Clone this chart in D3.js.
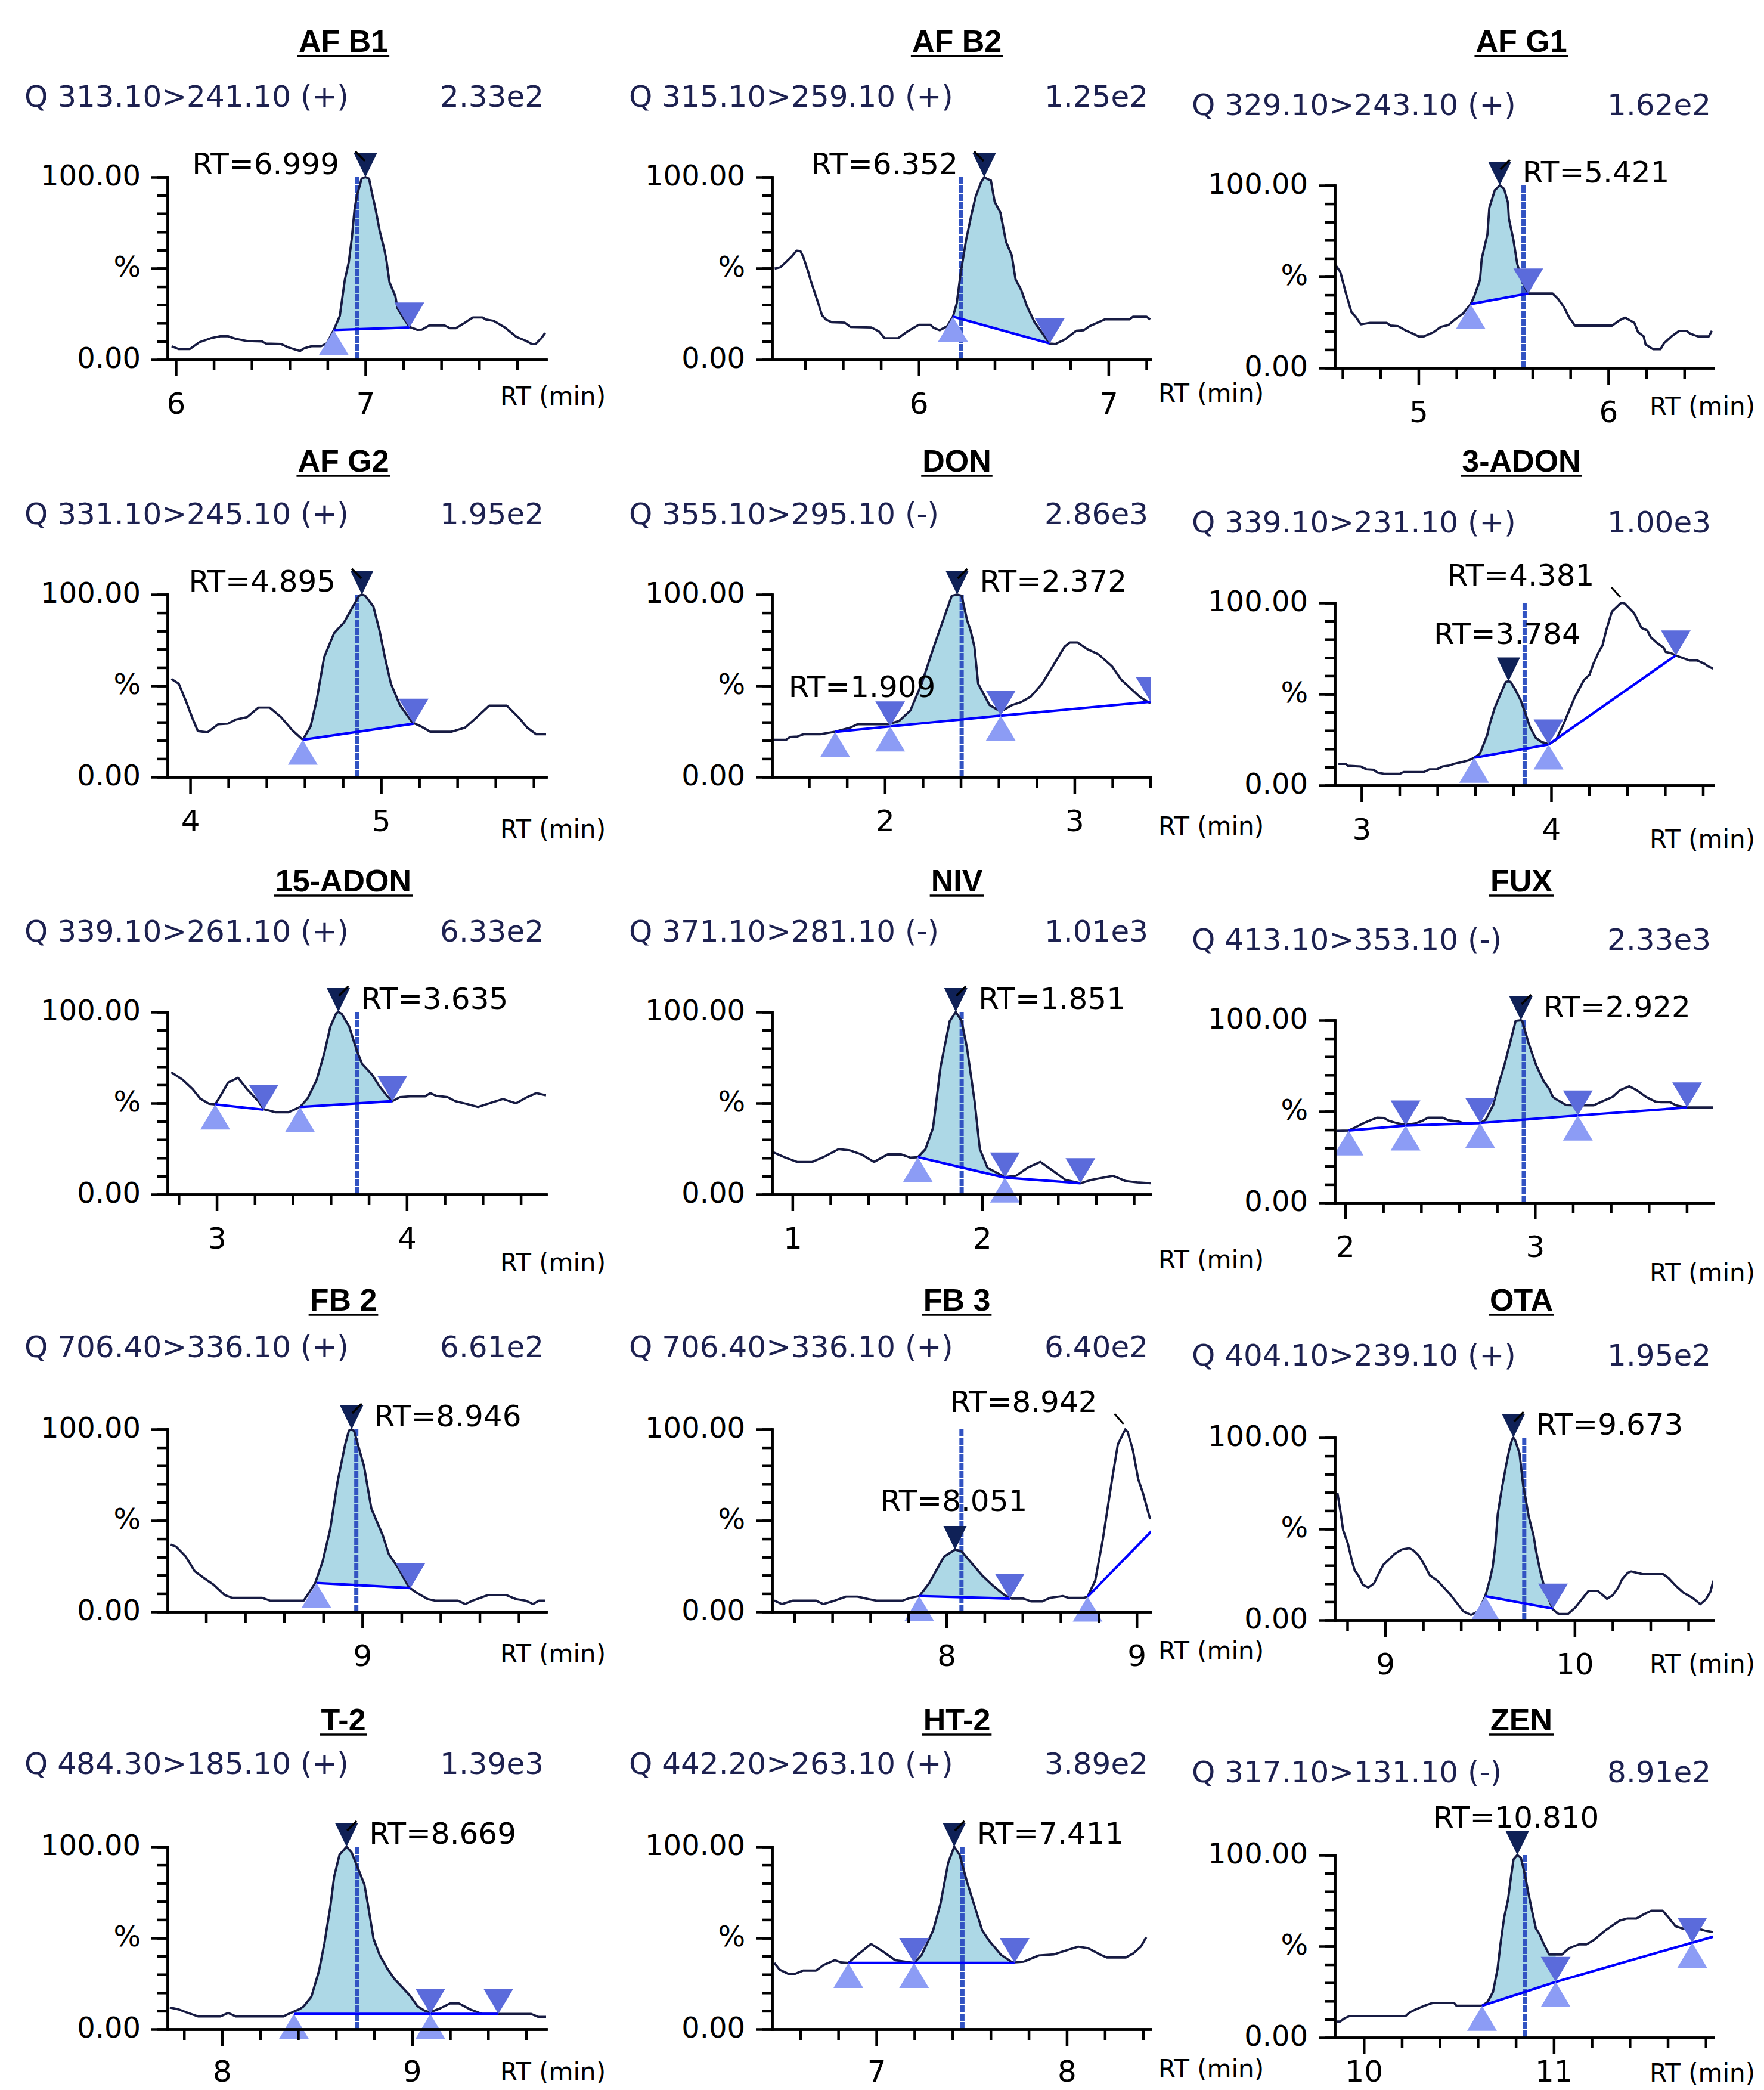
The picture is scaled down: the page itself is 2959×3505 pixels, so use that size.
<!DOCTYPE html>
<html><head><meta charset="utf-8">
<script src="https://cdn.jsdelivr.net/npm/d3@7"></script>
<style>body{margin:0;background:#fff}svg{display:block}</style>
</head><body>
<svg id="chart" width="2959" height="3505"></svg>
<script>
// ---------------- DATA ----------------
const compounds = ["AF B1","AF B2","AF G1","AF G2","DON","3-ADON","15-ADON","NIV","FUX","FB 2","FB 3","OTA","T-2","HT-2","ZEN"];
const transitions = ["Q 313.10>241.10 (+)","Q 315.10>259.10 (+)","Q 329.10>243.10 (+)","Q 331.10>245.10 (+)","Q 355.10>295.10 (-)","Q 339.10>231.10 (+)","Q 339.10>261.10 (+)","Q 371.10>281.10 (-)","Q 413.10>353.10 (-)","Q 706.40>336.10 (+)","Q 706.40>336.10 (+)","Q 404.10>239.10 (+)","Q 484.30>185.10 (+)","Q 442.20>263.10 (+)","Q 317.10>131.10 (-)"];
const intensities = ["2.33e2","1.25e2","1.62e2","1.95e2","2.86e3","1.00e3","6.33e2","1.01e3","2.33e3","6.61e2","6.40e2","1.95e2","1.39e3","3.89e2","8.91e2"];
const timeRanges = [[5.956,7.953],[5.226,7.222],[4.559,6.553],[3.881,5.865],[1.405,3.401],[2.859,4.855],[2.741,4.733],[0.892,2.888],[1.945,3.940],[8.003,9.940],[7.083,9.073],[8.734,10.732],[7.713,9.705],[6.452,8.440],[9.847,11.840]];
const yTickValues = [0,10,20,30,40,50,60,70,80,90,100];
const yTickLabels = {0:"0.00",50:"%",100:"100.00"};
const expectedRT = [6.956,6.224,5.553,4.873,2.405,3.860,3.737,1.892,2.941,8.969,8.079,9.734,8.709,7.452,10.847];
const peakTimes = [7.0,6.345,5.428,4.90,2.381,3.775,3.64,1.861,2.926,8.945,8.045,9.677,8.655,7.409,10.808];
const peakHeights = [100,100,100,100,100,57,100,100,100,100,34,100,100,100,100];
const peakLabels = ["RT=6.999","RT=6.352","RT=5.421","RT=4.895","RT=2.372","RT=3.784","RT=3.635","RT=1.851","RT=2.922","RT=8.946","RT=8.051","RT=9.673","RT=8.669","RT=7.411","RT=10.810"];
// other detected peaks: [panel, time, %, label]
const secondaryPeaks = [[5,4.375,100,"RT=4.381"],[10,8.94,100,"RT=8.942"]];
const freeLabels = [[4,1.492,43.8,"RT=1.909"]];

const traceAFB1 = [[5.978,7.3],[6.014,5.8],[6.074,5.8],[6.124,9.5],[6.184,11.7],[6.234,12.8],[6.275,12.8],[6.315,11.4],[6.375,10.2],[6.455,9.9],[6.475,8.8],[6.555,8.5],[6.595,6.6],[6.655,4.7],[6.675,6.1],[6.715,7.3],[6.766,7.3],[6.796,8.8],[6.833,16.2],[6.865,23.9],[6.875,31.5],[6.891,43.5],[6.912,53.3],[6.928,66.3],[6.943,82.7],[6.954,89.2],[6.980,99.2],[7.0,100],[7.019,99.2],[7.032,92.5],[7.053,82.7],[7.075,70.7],[7.101,59.8],[7.111,54.3],[7.127,42.4],[7.158,34.7],[7.169,28.2],[7.200,22.8],[7.232,17.9],[7.274,16.3],[7.297,16.4],[7.337,18.7],[7.417,18.7],[7.447,17.2],[7.477,17.2],[7.517,19.7],[7.567,23.1],[7.617,23.1],[7.637,21.9],[7.677,21.2],[7.737,17.5],[7.797,12.4],[7.848,10.2],[7.878,8.5],[7.898,8.5],[7.928,11.7],[7.948,14.6]];
const traceAFB2 = [[5.24,49.9],[5.27,50.6],[5.30,53.5],[5.33,56.5],[5.356,59.7],[5.376,59.4],[5.39,56.5],[5.416,48.4],[5.43,43.3],[5.47,30.8],[5.49,24.2],[5.51,22.0],[5.54,20.5],[5.61,20.2],[5.64,17.9],[5.75,17.6],[5.79,15.4],[5.82,11.7],[5.89,11.7],[5.94,15.4],[6.00,19.1],[6.06,19.1],[6.08,17.3],[6.11,16.1],[6.15,18.3],[6.18,23.5],[6.20,30.8],[6.22,46.9],[6.25,66.0],[6.28,80.6],[6.30,89.4],[6.33,97.5],[6.345,100],[6.36,99.0],[6.38,98.2],[6.40,86.5],[6.43,80.6],[6.46,64.5],[6.49,57.2],[6.51,44.0],[6.54,38.1],[6.57,29.3],[6.61,20.5],[6.65,14.7],[6.69,8.8],[6.72,8.5],[6.77,11.0],[6.83,15.8],[6.87,16.1],[6.90,18.3],[6.98,22.0],[7.11,22.0],[7.13,23.5],[7.20,23.5],[7.22,22.0]];
const traceAFG1 = [[4.559,57.0],[4.588,52.6],[4.618,40.8],[4.647,30.5],[4.667,28.3],[4.696,23.9],[4.745,24.7],[4.833,24.7],[4.853,23.2],[4.892,22.9],[4.931,20.6],[4.971,18.8],[5.0,17.3],[5.029,17.3],[5.078,19.5],[5.118,22.5],[5.157,23.5],[5.196,26.9],[5.235,29.8],[5.275,35.0],[5.294,39.4],[5.324,48.2],[5.333,59.9],[5.363,73.1],[5.373,87.8],[5.402,97.4],[5.428,100],[5.451,98.1],[5.471,90.7],[5.476,81.9],[5.5,70.2],[5.52,57.0],[5.549,46.7],[5.578,40.8],[5.706,40.8],[5.735,37.9],[5.765,33.5],[5.794,27.6],[5.824,23.2],[6.02,23.2],[6.059,26.1],[6.088,27.6],[6.137,24.7],[6.157,19.5],[6.186,17.3],[6.196,12.9],[6.235,10.3],[6.275,10.3],[6.294,13.6],[6.333,17.3],[6.373,20.3],[6.412,20.3],[6.431,18.8],[6.471,17.3],[6.529,17.3],[6.545,20.3]];
const traceAFG2 = [[3.901,53.7],[3.940,51.1],[3.980,40.9],[4.012,32.1],[4.040,25.1],[4.091,24.5],[4.147,28.9],[4.198,29.2],[4.238,31.4],[4.298,32.8],[4.357,38.0],[4.417,38.0],[4.476,32.8],[4.536,25.5],[4.590,20.4],[4.631,27.7],[4.663,42.3],[4.702,65.7],[4.754,78.8],[4.806,84.7],[4.845,92.0],[4.885,99.3],[4.90,100],[4.917,99.3],[4.960,93.4],[4.992,80.3],[5.020,65.7],[5.052,51.1],[5.099,39.4],[5.163,29.9],[5.210,27.7],[5.258,24.8],[5.369,24.8],[5.440,27.0],[5.488,31.4],[5.567,39.1],[5.659,39.1],[5.726,32.1],[5.766,27.0],[5.813,23.4],[5.865,23.4]];
const traceDON = [[1.409,20.4],[1.480,20.4],[1.500,21.9],[1.540,22.2],[1.571,23.4],[1.659,23.4],[1.738,24.8],[1.817,27.0],[1.857,28.9],[2.016,28.9],[2.075,30.7],[2.135,36.5],[2.194,51.1],[2.254,70.1],[2.313,87.6],[2.353,99.3],[2.381,100],[2.405,99.3],[2.433,86.1],[2.452,80.3],[2.472,71.5],[2.492,51.1],[2.552,39.4],[2.611,35.8],[2.671,39.4],[2.722,41.2],[2.770,44.1],[2.829,51.1],[2.889,61.3],[2.948,71.5],[2.976,73.7],[3.016,73.7],[3.067,70.1],[3.127,67.2],[3.198,60.6],[3.246,53.3],[3.345,43.8],[3.385,41.2],[3.401,40.5]];
const trace3ADON = [[2.878,11.7],[2.918,11.7],[2.927,10.7],[2.996,10.3],[3.025,8.8],[3.065,8.5],[3.084,7.0],[3.120,6.3],[3.202,6.3],[3.222,7.3],[3.329,7.3],[3.359,8.8],[3.398,8.8],[3.427,10.3],[3.457,10.7],[3.486,11.7],[3.535,12.9],[3.565,13.7],[3.594,15.1],[3.624,17.3],[3.663,27.6],[3.676,33.5],[3.702,42.3],[3.731,49.6],[3.761,56.7],[3.775,57],[3.786,56.7],[3.810,52.6],[3.839,46.7],[3.869,37.9],[3.888,32.0],[3.918,26.1],[3.947,23.9],[3.986,22.5],[4.025,24.7],[4.065,33.5],[4.124,48.2],[4.173,57.7],[4.202,60.6],[4.222,66.5],[4.251,73.1],[4.271,76.8],[4.290,84.9],[4.320,95.2],[4.369,100],[4.388,99.6],[4.437,94.4],[4.476,86.3],[4.506,84.9],[4.525,81.2],[4.555,78.3],[4.594,75.3],[4.604,73.1],[4.633,72.4],[4.663,70.9],[4.702,69.5],[4.731,68.4],[4.771,68.4],[4.810,66.5],[4.829,65.1],[4.853,64.0]];
const trace15ADON = [[2.761,66.9],[2.821,62.8],[2.873,57.7],[2.912,52.6],[2.960,49.6],[2.992,49.3],[3.032,56.2],[3.060,61.3],[3.112,63.9],[3.159,57.7],[3.219,51.1],[3.247,46.7],[3.311,45.0],[3.378,45.0],[3.438,47.9],[3.478,52.6],[3.526,62.8],[3.566,77.4],[3.598,92.0],[3.629,99.3],[3.64,100],[3.657,99.0],[3.697,92.0],[3.737,78.8],[3.765,71.5],[3.817,65.7],[3.857,59.1],[3.896,54.0],[3.924,51.1],[3.964,53.3],[4.016,53.7],[4.096,53.7],[4.124,55.5],[4.155,54.0],[4.215,53.3],[4.255,51.1],[4.315,49.6],[4.375,47.9],[4.434,49.9],[4.506,52.3],[4.574,49.9],[4.633,53.3],[4.681,55.5],[4.733,54.3]];
const traceNIV = [[0.892,23.4],[0.924,21.9],[0.964,20.1],[1.024,17.8],[1.104,17.8],[1.163,20.4],[1.243,24.8],[1.303,24.1],[1.363,21.9],[1.430,17.8],[1.502,21.9],[1.574,21.9],[1.622,20.1],[1.661,20.4],[1.701,24.8],[1.741,36.5],[1.781,70.1],[1.829,94.9],[1.861,100],[1.892,94.9],[1.920,80.3],[1.960,51.1],[1.988,24.8],[2.028,14.6],[2.120,9.5],[2.179,10.2],[2.239,14.6],[2.307,17.8],[2.371,13.1],[2.438,8.0],[2.518,6.1],[2.578,8.0],[2.689,10.2],[2.757,7.3],[2.817,6.6],[2.888,6.1]];
const traceFUX = [[1.955,39.4],[2.018,39.6],[2.053,41.3],[2.092,43.4],[2.132,45.2],[2.167,46.6],[2.206,46.4],[2.230,44.9],[2.269,43.7],[2.318,42.7],[2.367,43.4],[2.407,44.9],[2.436,46.6],[2.515,46.6],[2.544,45.2],[2.593,44.6],[2.623,43.7],[2.711,43.7],[2.740,45.5],[2.760,49.5],[2.780,53.6],[2.809,65.3],[2.839,75.5],[2.868,87.2],[2.898,99.6],[2.926,100],[2.933,99.6],[2.967,87.2],[3.006,75.5],[3.045,66.8],[3.075,62.4],[3.094,58.0],[3.114,56.6],[3.163,53.6],[3.212,53.4],[3.310,53.4],[3.360,55.8],[3.409,58.0],[3.448,61.7],[3.497,63.8],[3.536,61.7],[3.585,58.0],[3.635,55.4],[3.664,55.1],[3.713,55.1],[3.743,53.4],[3.802,52.2],[3.939,52.2]];
const traceFB2 = [[8.019,36.8],[8.046,35.8],[8.096,30.3],[8.142,22.2],[8.188,18.6],[8.238,14.9],[8.296,9.1],[8.335,7.6],[8.488,7.6],[8.527,6.1],[8.70,6.1],[8.758,15.6],[8.796,27.3],[8.835,45.0],[8.873,71.2],[8.912,91.7],[8.931,99.3],[8.945,100],[8.958,99.0],[8.981,90.2],[9.008,80.0],[9.046,56.6],[9.104,42.0],[9.135,31.7],[9.181,24.4],[9.238,13.5],[9.277,10.5],[9.335,6.9],[9.373,6.1],[9.488,6.1],[9.527,4.2],[9.565,6.1],[9.642,9.1],[9.738,9.1],[9.788,6.9],[9.835,6.1],[9.873,4.2],[9.904,6.1],[9.935,6.1]];
const traceFB3 = [[7.095,6.1],[7.135,4.2],[7.194,6.1],[7.313,6.1],[7.353,4.2],[7.413,6.1],[7.472,8.3],[7.532,8.3],[7.591,6.9],[7.631,6.1],[7.770,6.1],[7.810,7.6],[7.857,8.6],[7.909,15.6],[7.948,23.0],[7.988,30.3],[8.045,34.0],[8.079,33.2],[8.127,27.3],[8.187,20.0],[8.246,14.2],[8.306,9.1],[8.345,7.2],[8.405,7.2],[8.444,5.7],[8.504,5.7],[8.544,7.6],[8.611,8.6],[8.643,7.6],[8.722,7.6],[8.742,8.3],[8.782,17.1],[8.821,39.0],[8.849,58.0],[8.873,74.1],[8.901,91.7],[8.94,100],[8.952,98.7],[8.980,88.7],[9.008,72.7],[9.032,65.4],[9.071,50.7]];
const traceOTA = [[8.748,69.7],[8.764,59.5],[8.778,49.3],[8.803,42.0],[8.823,33.2],[8.839,27.4],[8.862,23.8],[8.882,19.4],[8.911,17.9],[8.941,20.1],[8.961,24.5],[8.990,30.3],[9.020,33.2],[9.049,36.2],[9.089,38.8],[9.128,39.4],[9.148,38.3],[9.177,35.4],[9.207,30.3],[9.236,24.5],[9.276,21.6],[9.305,18.4],[9.344,14.0],[9.374,9.9],[9.413,4.8],[9.453,2.9],[9.492,4.8],[9.528,13.1],[9.551,21.6],[9.567,28.9],[9.581,40.5],[9.594,58.0],[9.614,71.1],[9.640,85.7],[9.654,93.0],[9.669,98.8],[9.677,100],[9.685,98.8],[9.709,91.5],[9.728,74.1],[9.758,56.6],[9.783,46.4],[9.797,37.6],[9.817,27.4],[9.846,15.7],[9.886,5.8],[9.915,3.4],[9.965,3.4],[10.004,7.0],[10.043,12.1],[10.073,16.0],[10.122,16.0],[10.142,14.3],[10.171,11.7],[10.201,13.6],[10.230,17.9],[10.250,22.3],[10.280,25.9],[10.299,26.7],[10.358,25.2],[10.467,25.2],[10.496,23.0],[10.535,18.7],[10.575,15.0],[10.624,12.1],[10.663,8.7],[10.693,11.4],[10.717,15.7],[10.732,21.6]];
const traceT2 = [[7.725,11.9],[7.773,10.8],[7.821,8.9],[7.873,7.0],[7.992,7.0],[8.032,8.9],[8.072,7.0],[8.323,7.0],[8.351,8.4],[8.410,11.1],[8.430,12.6],[8.470,17.8],[8.510,31.9],[8.538,46.7],[8.570,67.4],[8.590,83.7],[8.618,95.6],[8.655,100],[8.681,97.0],[8.721,86.7],[8.749,79.3],[8.769,67.4],[8.797,49.6],[8.829,40.7],[8.869,33.3],[8.908,27.4],[8.948,23.0],[8.988,18.5],[9.028,12.6],[9.068,10.0],[9.096,9.3],[9.147,11.4],[9.199,14.1],[9.247,14.1],[9.307,10.8],[9.367,8.4],[9.454,8.4],[9.625,8.4],[9.665,6.7],[9.705,6.7]];
const traceHT2 = [[6.464,36.3],[6.492,32.6],[6.536,30.4],[6.575,30.4],[6.615,32.1],[6.683,32.1],[6.722,35.1],[6.782,37.8],[6.813,36.6],[6.853,36.3],[6.901,40.7],[6.972,46.7],[7.040,42.2],[7.099,37.8],[7.198,36.3],[7.238,40.7],[7.298,54.1],[7.337,68.9],[7.377,91.1],[7.409,100],[7.437,95.6],[7.476,80.7],[7.516,67.4],[7.556,54.1],[7.595,48.1],[7.655,40.7],[7.714,36.6],[7.774,37.0],[7.853,40.4],[7.933,41.0],[8.004,43.4],[8.060,45.2],[8.111,44.4],[8.179,40.7],[8.210,39.3],[8.310,39.3],[8.349,41.5],[8.389,45.2],[8.417,50.4]];
const traceZEN = [[9.857,8.8],[9.876,8.8],[9.896,10.4],[9.925,11.8],[10.220,11.8],[10.239,13.6],[10.269,15.2],[10.318,17.4],[10.363,19.0],[10.475,19.0],[10.488,17.4],[10.622,17.4],[10.651,19.4],[10.680,25.0],[10.704,37.6],[10.720,51.8],[10.739,66.0],[10.759,75.5],[10.775,88.2],[10.788,97.6],[10.808,100],[10.827,98.4],[10.847,89.7],[10.867,78.7],[10.886,69.2],[10.906,59.7],[10.925,56.6],[10.945,51.8],[10.975,45.5],[11.043,45.5],[11.082,49.0],[11.131,51.0],[11.171,51.0],[11.210,53.4],[11.269,58.5],[11.308,61.3],[11.347,64.1],[11.386,65.2],[11.435,65.2],[11.475,67.6],[11.514,69.5],[11.573,69.5],[11.602,66.0],[11.641,61.0],[11.680,59.7],[11.759,59.7],[11.798,58.5],[11.837,57.8]];

// integration baselines: [startTime, start%, endTime, end%, filled]
const baseAFB1 = [[6.833,16.2,7.232,17.6,1]];
const baseAFB2 = [[6.18,23.5,6.69,8.8,1]];
const baseAFG1 = [[5.275,35.0,5.578,40.8,1]];
const baseAFG2 = [[4.590,20.4,5.171,29.2,1]];
const baseDON = [[1.738,24.7,2.028,27.7,0],[2.028,27.7,2.611,33.6,1],[2.611,33.6,3.401,41.2,0]];
const base3ADON = [[3.594,15.1,3.986,22.4,1],[3.986,22.4,4.657,71.2,0]];
const base15ADON = [[2.992,49.3,3.247,46.4,0],[3.438,47.9,3.924,51.1,1]];
const baseNIV = [[1.661,20.4,2.120,9.2,1],[2.120,9.2,2.518,6.1,0]];
const baseFUX = [[2.018,39.6,2.318,42.3,0],[2.318,42.3,2.711,43.7,0],[2.711,43.7,3.226,47.8,1],[3.226,47.8,3.802,52.2,0]];
const baseFB2 = [[8.765,15.8,9.246,13.0,1]];
const baseFB3 = [[7.857,8.6,8.333,7.2,1],[8.742,8.3,9.2,57.2,0]];
const baseOTA = [[9.528,13.1,9.886,6.3,1]];
const baseT2 = [[8.378,8.4,9.096,8.4,1],[9.096,8.4,9.454,8.4,0]];
const baseHT2 = [[6.853,36.3,7.198,36.3,0],[7.198,36.3,7.726,36.3,1]];
const baseZEN = [[10.622,17.4,11.010,30.5,1],[11.010,30.5,11.729,52.0,0],[11.729,52.0,11.95,58.6,0]];

const traces = [traceAFB1,traceAFB2,traceAFG1,traceAFG2,traceDON,trace3ADON,trace15ADON,traceNIV,traceFUX,traceFB2,traceFB3,traceOTA,traceT2,traceHT2,traceZEN];
const baselines = [baseAFB1,baseAFB2,baseAFG1,baseAFG2,baseDON,base3ADON,base15ADON,baseNIV,baseFUX,baseFB2,baseFB3,baseOTA,baseT2,baseHT2,baseZEN];

// ---------------- LAYOUT / STYLE ----------------
const W = 2959, H = 3505;
const colLeft = [281,1295,2239];
const axisW = 635, plotH = 306, col3Shift = 14;
const rowTop = [297,997,1697,2397,3097];
const titleX = [576,1605,2552];
const titleDy = [-210,-206,-202,-199,-195];
const transDy = [-118,-118,-118,-121,-122];
const rtMinX = [839,1943,2767];
const rtMinRowDy = [76,102,129,85,86];
const rtMinColDy = [0,-5,3];
const labelSide = ["left","left","right","left","right","above","right","right","right","right","above","right","right","right","above"];
const aboveDy = {5:-63,10:-65,14:-46};
const C = {fill:"#add8e6",trace:"#171b42",base:"#0000ff",dash:"#3253c2",up:"#8c9cf5",down:"#5b6bdb",peak:"#0f2157",navy:"#1d2150"};
const FONT = "'DejaVu Sans', Verdana, sans-serif";

const svg = d3.select("#chart");
svg.append("rect").attr("width",W).attr("height",H).attr("fill","#fff");

function interp(tr, t){
  const i = d3.bisector(d=>d[0]).left(tr, t);
  if (i<=0) return tr[0][1];
  if (i>=tr.length) return tr[tr.length-1][1];
  const a=tr[i-1], b=tr[i];
  return a[1]+(b[1]-a[1])*(t-a[0])/(b[0]-a[0]);
}

compounds.forEach((name,i)=>{
  const col=i%3, row=Math.floor(i/3);
  const T = rowTop[row] + (col===2?col3Shift:0);
  const B = T + plotH;
  const L = colLeft[col], R = L + axisW;
  const [x0,x1] = timeRanges[i];
  const x = d3.scaleLinear().domain([x0,x1]).range([L,R]);
  const y = d3.scaleLinear().domain([0,100]).range([B,T]);
  const g = svg.append("g");
  const tr = traces[i];

  const cid = "clip"+i;
  svg.append("clipPath").attr("id",cid).append("rect")
    .attr("x",L).attr("y",T-120).attr("width",axisW).attr("height",plotH+240);

  // title
  const tt = g.append("text").attr("x",titleX[col]).attr("y",rowTop[row]+titleDy[row])
    .attr("text-anchor","middle").attr("font-family","'Liberation Sans', Arial, sans-serif")
    .attr("font-weight","bold").attr("font-size",52).attr("fill","#000").text(name);
  const tw = tt.node().getComputedTextLength();
  g.append("line").attr("x1",titleX[col]-tw/2-2).attr("x2",titleX[col]+tw/2+2)
    .attr("y1",rowTop[row]+titleDy[row]+7).attr("y2",rowTop[row]+titleDy[row]+7)
    .attr("stroke","#000").attr("stroke-width",3.5);

  // transition & intensity
  g.append("text").attr("x",L-240).attr("y",T+transDy[row]).attr("font-family",FONT)
    .attr("font-size",50).attr("fill",C.navy).text(transitions[i]);
  g.append("text").attr("x",R-4).attr("y",T+transDy[row]).attr("text-anchor","end")
    .attr("font-family",FONT).attr("font-size",50).attr("fill",C.navy).text(intensities[i]);

  // integration fills
  baselines[i].forEach(b=>{
    if(!b[4]) return;
    const [t1,p1,t2,p2] = b;
    const poly = [[t1,p1],[t1,interp(tr,t1)]]
      .concat(tr.filter(d=>d[0]>t1&&d[0]<t2))
      .concat([[t2,interp(tr,t2)],[t2,p2]]);
    g.append("path").attr("clip-path",`url(#${cid})`)
      .attr("d", d3.line().x(d=>x(d[0])).y(d=>y(d[1]))(poly)+"Z")
      .attr("fill",C.fill).attr("stroke","none");
  });

  // expected RT dashed line
  g.append("line").attr("x1",x(expectedRT[i])).attr("x2",x(expectedRT[i]))
    .attr("y1",T).attr("y2",B).attr("stroke",C.dash).attr("stroke-width",7)
    .attr("stroke-dasharray","12,2");

  // trace
  g.append("path").attr("clip-path",`url(#${cid})`)
    .attr("d", d3.line().x(d=>x(d[0])).y(d=>y(d[1]))(tr))
    .attr("fill","none").attr("stroke",C.trace).attr("stroke-width",3.8)
    .attr("stroke-linejoin","round");

  // baselines
  const mg = g.append("g").attr("clip-path",`url(#${cid})`);
  baselines[i].forEach(b=>{
    mg.append("line").attr("x1",x(b[0])).attr("y1",y(b[1])).attr("x2",x(b[2])).attr("y2",y(b[3]))
      .attr("stroke",C.base).attr("stroke-width",4.2);
  });
  // markers
  baselines[i].forEach(b=>{
    const sx=x(b[0]), sy=y(b[1]);
    mg.append("path").attr("d",`M${sx},${sy}L${sx-25},${sy+42}L${sx+25},${sy+42}Z`).attr("fill",C.up);
    const ex=x(b[2]), ey=y(b[3]);
    mg.append("path").attr("d",`M${ex},${ey}L${ex-25},${ey-42}L${ex+25},${ey-42}Z`).attr("fill",C.down);
  });

  // axes
  const ks = d3.range(Math.ceil(x0*5-1e-6), Math.floor(x1*5+1e-6)+1);
  const minor = ks.filter(k=>k%5!==0).map(k=>k/5);
  const major = ks.filter(k=>k%5===0).map(k=>k/5);
  const axG = g.append("g").attr("transform",`translate(0,${B})`);
  axG.call(d3.axisBottom(x).tickValues(minor).tickSize(18).tickSizeOuter(0).tickFormat(""));
  const axG2 = g.append("g").attr("transform",`translate(0,${B})`);
  axG2.call(d3.axisBottom(x).tickValues(major).tickSize(28).tickSizeOuter(0).tickFormat(d3.format("d")));
  axG2.selectAll("text").attr("y",Math.min(91, H-14-B)).attr("dy",null).attr("font-size",50).attr("font-family",FONT).attr("fill","#000");
  const ayG = g.append("g").attr("transform",`translate(${L},0)`);
  ayG.call(d3.axisLeft(y).tickValues(yTickValues).tickSize(17).tickSizeOuter(0).tickFormat(""));
  const ayG2 = g.append("g").attr("transform",`translate(${L},0)`);
  ayG2.call(d3.axisLeft(y).tickValues([0,50,100]).tickSize(27).tickSizeOuter(0).tickPadding(18).tickFormat(d=>yTickLabels[d]));
  ayG2.selectAll("text").attr("dy","13").attr("font-size",48).attr("font-family",FONT).attr("fill","#000");
  [axG,axG2,ayG,ayG2].forEach(a=>{
    a.selectAll(".tick line").attr("stroke","#000").attr("stroke-width",4.5);
    a.select(".domain").attr("stroke","#000").attr("stroke-width",4.5).attr("stroke-linecap","square");
  });

  // RT (min)
  g.append("text").attr("x",rtMinX[col]).attr("y",Math.min(T+plotH+rtMinRowDy[row]+rtMinColDy[col], H-14))
    .attr("font-family",FONT).attr("font-size",42).attr("fill","#000").text("RT (min)");

  // peak marker & label
  const px=x(peakTimes[i]), py=y(peakHeights[i]);
  g.append("path").attr("d",`M${px},${py}L${px-19.5},${py-40}L${px+19.5},${py-40}Z`).attr("fill",C.peak);
  const side = labelSide[i];
  const lab = g.append("text").attr("font-family",FONT).attr("font-size",50).attr("fill","#000").text(peakLabels[i]);
  if(side==="left"){
    lab.attr("x",px-44).attr("y",py-5).attr("text-anchor","end");
    g.append("line").attr("x1",px-17).attr("y1",py-43).attr("x2",px-1).attr("y2",py-27).attr("stroke","#000").attr("stroke-width",3.5);
  } else if(side==="right"){
    lab.attr("x",px+38).attr("y",py-5).attr("text-anchor","start");
    g.append("line").attr("x1",px+17).attr("y1",py-43).attr("x2",px+1).attr("y2",py-27).attr("stroke","#000").attr("stroke-width",3.5);
  } else {
    lab.attr("x",px-2).attr("y",py+aboveDy[i]).attr("text-anchor","middle");
  }
  secondaryPeaks.filter(s=>s[0]===i).forEach(s=>{
    const sx=x(s[1]), sy=y(s[2]);
    g.append("text").attr("x",sx-47).attr("y",sy-29).attr("text-anchor","end")
      .attr("font-family",FONT).attr("font-size",50).attr("fill","#000").text(s[3]);
    g.append("line").attr("x1",sx-18).attr("y1",sy-26).attr("x2",sx-3).attr("y2",sy-9).attr("stroke","#000").attr("stroke-width",3);
  });
  freeLabels.filter(s=>s[0]===i).forEach(s=>{
    g.append("text").attr("x",x(s[1])).attr("y",y(s[2])).attr("font-family",FONT)
      .attr("font-size",50).attr("fill","#000").text(s[3]);
  });
});
</script>
</body></html>
